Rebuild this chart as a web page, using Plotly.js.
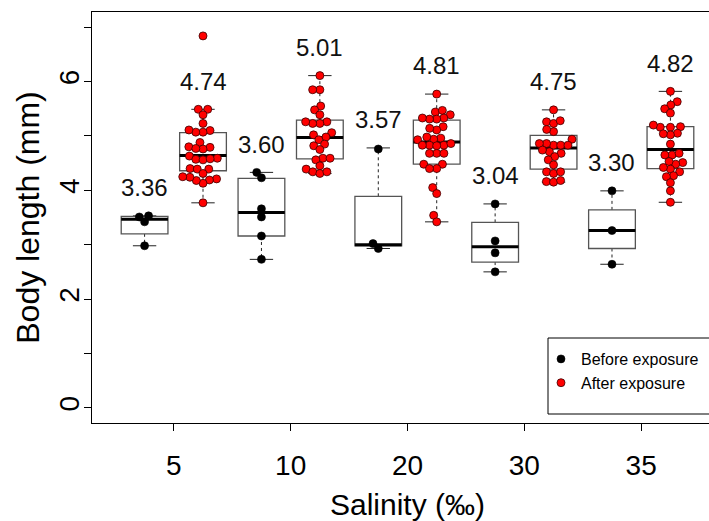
<!DOCTYPE html>
<html>
<head>
<meta charset="utf-8">
<script src="https://cdn.plot.ly/plotly-3.0.1.min.js"></script>
<style>
  html, body { margin: 0; padding: 0; background: #fff; overflow: hidden; }
  #chart { width: 723px; height: 521px; }
</style>
</head>
<body>
<div id="chart"></div>
<script>
// ---------------- data ----------------
const salinity = ['5', '10', '20', '30', '35'];
const seriesNames = ['Before exposure', 'After exposure'];
const xTitle = 'Salinity (‰)';
const yTitle = 'Body length (mm)';

// mean labels printed above the boxes (before/after alternating per salinity)
const means = [3.36, 4.74, 3.60, 5.01, 3.57, 4.81, 3.04, 4.75, 3.30, 4.82];

// box statistics, same order (B5, A5, B10, A10, B20, A20, B30, A30, B35, A35)
const q1       = [3.20, 4.36, 3.16, 4.58, 2.98, 4.48, 2.68, 4.39, 2.93, 4.40];
const medians  = [3.47, 4.64, 3.59, 4.97, 3.00, 4.89, 2.96, 4.78, 3.26, 4.75];
const q3       = [3.52, 5.06, 4.22, 5.29, 3.89, 5.29, 3.41, 5.01, 3.64, 5.17];
const whiskLo  = [2.98, 3.77, 2.73, 4.31, 2.93, 3.42, 2.50, 4.15, 2.64, 3.78];
const whiskHi  = [3.53, 5.49, 4.33, 6.11, 4.78, 5.77, 3.75, 5.48, 3.99, 5.82];

// individual body lengths (mm)
const before5  = [3.53, 3.51, 3.42, 2.98];
const after5   = [6.84, 5.49, 5.49, 5.39, 5.23, 5.10, 5.07, 5.07, 5.11, 4.88, 4.80, 4.79, 4.76, 4.77, 4.63,
                  4.59, 4.57, 4.56, 4.58, 4.40, 4.39, 4.39, 4.31, 4.21, 4.19, 4.13, 4.18, 4.24, 4.25, 3.77];
const before10 = [4.33, 4.23, 3.66, 3.51, 3.16, 2.73];
const after10  = [6.11, 5.85, 5.85, 5.55, 5.48, 5.39, 5.26, 5.23, 5.23, 5.26, 5.06, 5.02, 4.98, 4.93, 4.85,
                  4.82, 4.75, 4.59, 4.59, 4.56, 4.45, 4.39, 4.34, 4.31, 4.34];
const before20 = [4.76, 3.02, 2.93];
const after20  = [5.77, 5.44, 5.47, 5.39, 5.33, 5.31, 5.31, 5.33, 5.17, 5.11, 5.14, 4.96, 4.94, 4.98, 4.93,
                  4.83, 4.83, 4.82, 4.83, 4.86, 4.68, 4.68, 4.68, 4.48, 4.48, 4.40, 4.40, 4.05, 3.94, 3.54, 3.42];
const before30 = [3.75, 3.07, 2.85, 2.50];
const after30  = [5.48, 5.26, 5.23, 5.28, 5.08, 5.12, 4.94, 4.83, 4.86, 4.86, 4.83, 4.83, 4.71, 4.74, 4.68,
                  4.62, 4.56, 4.47, 4.34, 4.31, 4.34, 4.16, 4.15, 4.18];
const before35 = [3.99, 3.26, 2.64];
const after35  = [5.82, 5.63, 5.57, 5.50, 5.42, 5.16, 5.17, 5.16, 5.20, 5.05, 5.02, 5.04, 4.85, 4.65, 4.65,
                  4.68, 4.51, 4.48, 4.53, 4.39, 4.42, 4.34, 4.27, 4.25, 4.14, 3.99, 3.78];

const yTickVals = [0, 1, 2, 3, 4, 5, 6, 7];
const yTickText = ['0', '', '2', '', '4', '', '6', ''];

// ---------------- layout constants ----------------
// the original frame runs past the right edge of the 709px picture
const W = 723, H = 521;
const M = { l: 92, r: 0, t: 12, b: 98 };
const xRange = [0.1, 10.9];
const yRange = [-0.28, 7.28];
const pxPerX = (W - M.l - M.r) / (xRange[1] - xRange[0]);
const pxPerY = (H - M.t - M.b) / (yRange[1] - yRange[0]);
const plotW = W - M.l - M.r, plotH = H - M.t - M.b;
const BOXHALF = 0.4;
const NARROW = '"Liberation Sans Narrow", "Arial Narrow", "Liberation Sans", Arial, sans-serif';
const SANS = '"Liberation Sans", Arial, sans-serif';

const groupsBefore = [before5, before10, before20, before30, before35];
const groupsAfter  = [after5, after10, after20, after30, after35];

// deterministic beeswarm ("swarm") layout, offsets in pixels
function swarm(vals, d) {
  const order = vals.map((v, i) => i).sort((a, b) => vals[a] - vals[b]);
  const placed = [];
  const out = new Array(vals.length).fill(0);
  for (const i of order) {
    const y = vals[i] * pxPerY;
    const cands = [0];
    for (const p of placed) {
      const dy = Math.abs(p.y - y);
      if (dy < d) {
        const dx = Math.sqrt(d * d - dy * dy);
        cands.push(p.x + dx, p.x - dx);
      }
    }
    cands.sort((a, b) => (Math.abs(a) - Math.abs(b)) || (a - b));
    for (const c of cands) {
      const ok = placed.every(p => (p.x - c) ** 2 + (p.y - y) ** 2 >= d * d - 1e-6);
      if (ok) { out[i] = c; placed.push({ x: c, y: y }); break; }
    }
  }
  return out;
}

function buildPoints(groups, side) {
  const xs = [], ys = [];
  groups.forEach((vals, g) => {
    const pos = 2 * g + side + 1;
    const off = swarm(vals, 7.2);
    vals.forEach((v, i) => { xs.push(pos + off[i] / pxPerX); ys.push(v); });
  });
  return { xs, ys };
}

const pb = buildPoints(groupsBefore, 0);
const pa = buildPoints(groupsAfter, 1);

const traces = [
  {
    type: 'scatter', mode: 'markers', name: seriesNames[0],
    x: pb.xs, y: pb.ys,
    marker: { color: '#000000', size: 8, line: { color: '#000000', width: 0.6 } },
    hoverinfo: 'y'
  },
  {
    type: 'scatter', mode: 'markers', name: seriesNames[1],
    x: pa.xs, y: pa.ys,
    marker: { color: '#ff0000', size: 8, line: { color: '#3a0000', width: 0.8 } },
    hoverinfo: 'y'
  }
];

// box-plot shapes from the statistics arrays
const shapes = [];
const annotations = [];
means.forEach((m, k) => {
  const pos = k + 1;
  shapes.push({ type: 'line', xref: 'x', yref: 'y', layer: 'below', x0: pos, x1: pos, y0: q3[k], y1: whiskHi[k],
                line: { color: '#222', width: 1, dash: '3px,3px' } });
  shapes.push({ type: 'line', xref: 'x', yref: 'y', layer: 'below', x0: pos, x1: pos, y0: q1[k], y1: whiskLo[k],
                line: { color: '#222', width: 1, dash: '3px,3px' } });
  shapes.push({ type: 'line', xref: 'x', yref: 'y', layer: 'below', x0: pos - BOXHALF / 2, x1: pos + BOXHALF / 2,
                y0: whiskHi[k], y1: whiskHi[k], line: { color: '#222', width: 1 } });
  shapes.push({ type: 'line', xref: 'x', yref: 'y', layer: 'below', x0: pos - BOXHALF / 2, x1: pos + BOXHALF / 2,
                y0: whiskLo[k], y1: whiskLo[k], line: { color: '#222', width: 1 } });
  shapes.push({ type: 'rect', xref: 'x', yref: 'y', layer: 'below', x0: pos - BOXHALF, x1: pos + BOXHALF,
                y0: q1[k], y1: q3[k], fillcolor: '#ffffff', line: { color: '#555555', width: 1.3 } });
  shapes.push({ type: 'line', xref: 'x', yref: 'y', layer: 'below', x0: pos - BOXHALF, x1: pos + BOXHALF,
                y0: medians[k], y1: medians[k], line: { color: '#000000', width: 3 } });
  annotations.push({ x: pos, y: whiskHi[k] + 0.52, xref: 'x', yref: 'y', text: m.toFixed(2), showarrow: false,
                     xanchor: 'center', yanchor: 'middle', font: { family: NARROW, size: 24, color: '#111' } });
});

// x-axis title, sitting low near the bottom edge like the original
annotations.push({ x: 0.5, y: (H - M.b - 504) / plotH, xref: 'paper', yref: 'paper', text: xTitle,
                   showarrow: false, xanchor: 'center', yanchor: 'middle',
                   font: { family: NARROW, size: 30, color: '#000' } });

// legend frame (runs off the right edge like the original)
shapes.push({ type: 'rect', xref: 'paper', yref: 'paper', layer: 'above',
              x0: (548 - M.l) / plotW, x1: 1.2,
              y0: (H - M.b - 414) / plotH, y1: (H - M.b - 338) / plotH,
              fillcolor: 'rgba(255,255,255,0)', line: { color: '#000', width: 1 } });

const layout = {
  width: W, height: H,
  margin: M,
  paper_bgcolor: '#ffffff', plot_bgcolor: '#ffffff',
  showlegend: true,
  legend: {
    x: (541 - M.l) / plotW, y: (H - M.b - 342) / plotH,
    xanchor: 'left', yanchor: 'top',
    bgcolor: 'rgba(0,0,0,0)', borderwidth: 0,
    font: { family: SANS, size: 16, color: '#000' },
    tracegroupgap: 0
  },
  xaxis: {
    range: xRange, showgrid: false, zeroline: false,
    showline: true, mirror: true, linecolor: '#000', linewidth: 1.3,
    ticks: 'outside', ticklen: 7, tickwidth: 1, tickcolor: '#000',
    tickvals: salinity.map((s, g) => 2 * g + 1.5), ticktext: salinity,
    tickfont: { family: NARROW, size: 28, color: '#000' },
    ticklabelstandoff: 10,
    automargin: false
  },
  yaxis: {
    range: yRange, showgrid: false, zeroline: false,
    showline: true, linecolor: '#000', linewidth: 1.3,
    ticks: 'outside', ticklen: 7, tickwidth: 1, tickcolor: '#000',
    tickvals: yTickVals, ticktext: yTickText, tickangle: -90,
    tickfont: { family: SANS, size: 28, color: '#000' },
    ticklabelstandoff: -6,
    title: { text: yTitle, font: { family: SANS, size: 32, color: '#000' }, standoff: 4 },
    automargin: false
  },
  shapes: shapes,
  annotations: annotations
};

Plotly.newPlot('chart', traces, layout, { displayModeBar: false, staticPlot: true });
</script>
</body>
</html>
